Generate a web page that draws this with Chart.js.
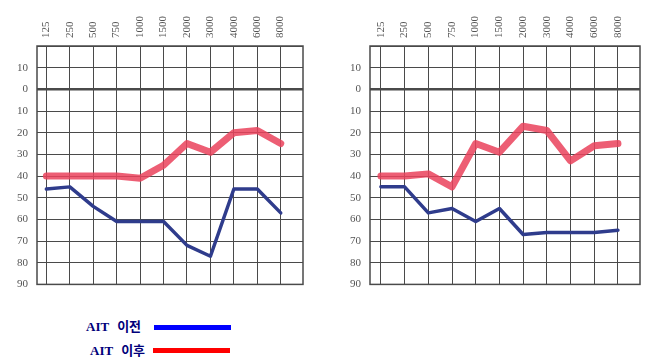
<!DOCTYPE html>
<html>
<head>
<meta charset="utf-8">
<script src="https://cdn.jsdelivr.net/npm/chart.js@4"></script>
<style>
  body { margin: 0; background: #fff; width: 649px; height: 364px; overflow: hidden; position: relative; }
  canvas { position: absolute; top: 0; }
  #left { left: 0; }
  #right { left: 330px; }
  .key { position: absolute; font-weight: bold; color: #00007a; font-size: 13px; line-height: 14px; white-space: nowrap; }
  .key .ait { font-family: "Liberation Serif", serif; font-size: 13px; }
  .key .ko { font-family: "Noto Sans CJK KR", sans-serif; margin-left: 8px; }
  .swatch { position: absolute; width: 77px; height: 5px; }
</style>
</head>
<body>
<canvas id="left" width="320" height="300"></canvas>
<canvas id="right" width="319" height="300"></canvas>

<div class="key" style="left:86px;top:319px"><span class="ait">AIT</span><span class="ko">이전</span></div>
<div class="swatch" style="left:154px;top:325px;background:#0000ff"></div>
<div class="key" style="left:90px;top:343px"><span class="ait">AIT</span><span class="ko">이후</span></div>
<div class="swatch" style="left:153px;top:348px;background:#ff0000"></div>

<script>
// frequencies (Hz) across the top
const FREQS = ['125', '250', '500', '750', '1000', '1500', '2000', '3000', '4000', '6000', '8000'];

// hearing level (dB), left panel
const LEFT_BEFORE = [46, 45, 54, 61, 61, 61, 72, 77, 46, 46, 57];
const LEFT_AFTER  = [40, 40, 40, 40, 41, 35, 25, 29, 20, 19, 25];

// hearing level (dB), right panel
const RIGHT_BEFORE = [45, 45, 57, 55, 61, 55, 67, 66, 66, 66, 65];
const RIGHT_AFTER  = [40, 40, 39, 45, 25, 29, 17, 19, 33, 26, 25];

const SERIES = ['AIT 이전', 'AIT 이후'];

const DB_MIN = -20, DB_MAX = 90, DB_STEP = 10;

const GRID = '#4a4a4a';
const TICK_FONT = { family: 'Liberation Serif', size: 11 };

// box round the plotting area
const frame = {
    id: 'frame',
    beforeDatasetsDraw(chart) {
        const { ctx, chartArea: a } = chart;
        ctx.save();
        ctx.strokeStyle = GRID;
        ctx.lineWidth = 1.5;
        ctx.strokeRect(a.left, a.top, a.right - a.left, a.bottom - a.top);
        ctx.restore();
    }
};

function toPoints(arr) {
    return arr.map((v, i) => ({ x: i, y: v }));
}

function audiogram(id, before, after, o) {
    new Chart(document.getElementById(id), {
        type: 'line',
        data: {
            datasets: [
                {
                    label: SERIES[0],
                    data: toPoints(before),
                    borderColor: '#2f3c8c',
                    borderWidth: 3.5,
                    pointRadius: 0,
                    borderCapStyle: 'round',
                    borderJoinStyle: 'round'
                },
                {
                    label: SERIES[1],
                    data: toPoints(after),
                    borderColor: 'rgba(234,66,92,0.85)',
                    borderWidth: 7,
                    pointRadius: 0,
                    borderCapStyle: 'round',
                    borderJoinStyle: 'round'
                }
            ]
        },
        options: {
            responsive: false,
            animation: false,
            layout: { padding: { top: 0, left: 0, right: o.padRight, bottom: o.padBottom } },
            plugins: { legend: { display: false }, tooltip: { enabled: false } },
            scales: {
                x: {
                    type: 'linear',
                    position: 'top',
                    min: o.xMin, max: o.xMax,
                    afterBuildTicks: s => { s.ticks = FREQS.map((f, i) => ({ value: i })); },
                    afterFit: s => { s.height = 46; },
                    border: { display: false },
                    grid: { color: GRID, lineWidth: 1, drawTicks: false },
                    ticks: {
                        callback: v => FREQS[v],
                        minRotation: 90, maxRotation: 90,
                        autoSkip: false,
                        padding: 8,
                        labelOffset: 13,
                        color: '#555',
                        font: TICK_FONT
                    }
                },
                y: {
                    min: DB_MIN, max: DB_MAX,
                    reverse: true,
                    afterFit: s => { s.width = o.yWidth; },
                    border: { display: false },
                    grid: {
                        color: GRID,
                        lineWidth: c => (c.tick && c.tick.value === 0 ? 2.5 : 1),
                        drawTicks: false
                    },
                    ticks: {
                        stepSize: DB_STEP,
                        callback: v => (v === DB_MIN ? '' : Math.abs(v)),
                        padding: 9,
                        color: '#555',
                        font: TICK_FONT
                    }
                }
            }
        },
        plugins: [frame]
    });
}

audiogram('left', LEFT_BEFORE, LEFT_AFTER, { xMin: -0.4, xMax: 10.95, yWidth: 37, padRight: 17, padBottom: 11 });
audiogram('right', RIGHT_BEFORE, RIGHT_AFTER, { xMin: -0.46, xMax: 10.93, yWidth: 40, padRight: 9, padBottom: 12 });
</script>
</body>
</html>
